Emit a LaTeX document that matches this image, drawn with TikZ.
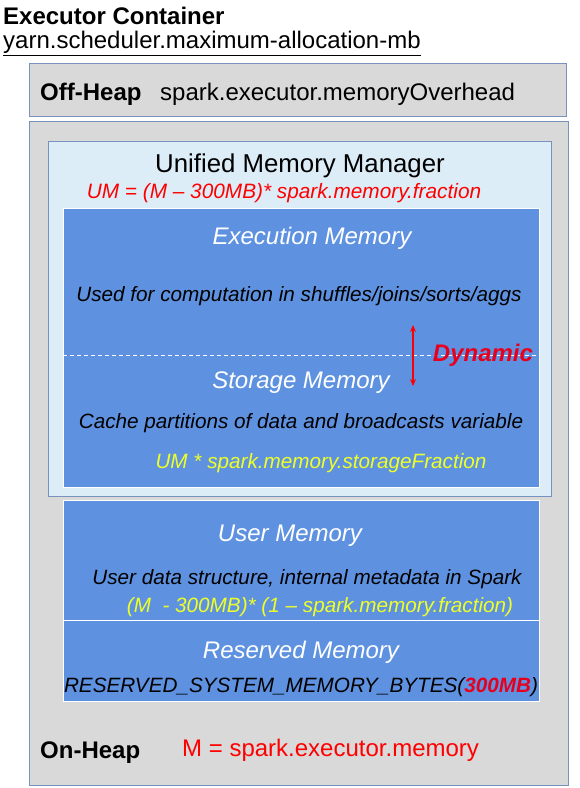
\documentclass[tikz,border=0pt]{standalone}
\usepackage{fontspec}
\setmainfont{Liberation Sans}
\usetikzlibrary{positioning,arrows.meta}
\definecolor{heapgray}{RGB}{217,217,217}
\definecolor{heapline}{RGB}{120,146,190}
\definecolor{umbg}{RGB}{220,237,247}
\definecolor{memblue}{RGB}{94,146,224}
\definecolor{fracyellow}{RGB}{238,255,40}
\definecolor{dynred}{RGB}{230,0,30}
\newcommand{\fsz}[1]{\fontsize{#1}{#1}\selectfont}

\begin{document}
\begin{tikzpicture}[
    x=1pt, y=-1pt,
    region/.style={
        draw=heapline,
        fill=heapgray,
        line width=1pt,
        anchor=north west,
        inner sep=0pt
    },
    umbox/.style={
        region,
        fill=umbg
    },
    membox/.style={
        draw=white,
        fill=memblue,
        line width=1pt,
        anchor=north west,
        inner sep=0pt
    },
    label/.style={inner sep=0pt, yshift=-2.5pt, font=\fsz{24}},
    head/.style={label, font=\fsz{24}\bfseries},
    memname/.style={label, text=white, font=\fsz{24}\itshape},
    memtext/.style={label, font=\fsz{20.7}\itshape},
    formula/.style={label, text=fracyellow, font=\fsz{20.7}\itshape},
    dynarrow/.style={
        {Stealth[length=7pt,width=6pt]}-{Stealth[length=7pt,width=6pt]},
        draw=red,
        line width=1.5pt
    }
]
\useasboundingbox[fill=white] (0,0) rectangle (580,788);

% container title
\node[head, anchor=west] (title) at (3,13) {Executor Container};
\node[label, anchor=west] (yarn) at (3,41) {\underline{yarn.scheduler.maximum-allocation-mb}};

% off-heap
\node[region, minimum width=537pt, minimum height=53pt] (offheap) at (29,63) {};
\node[head, anchor=west] (offlbl) at (40,92) {Off-Heap};
\node[label, anchor=west] (offval) at (160,92) {spark.executor.memoryOverhead};

% on-heap
\node[region, minimum width=539pt, minimum height=664pt] (onheap) at (29,121) {};
\node[umbox, minimum width=503pt, minimum height=355pt] (umm) at (48,141) {};
\node[label, font=\fsz{25.8}] (ummlbl) at (300,163) {Unified Memory Manager};
\node[label, text=red, font=\fsz{20.8}\itshape] (ummval) at (284,191)
{UM = (M -- 300MB)* spark.memory.fraction};

% execution + storage
\node[membox, minimum width=476pt, minimum height=279pt] (execstore) at (63,208) {};
\node[memname] (execlbl) at (312,236) {Execution Memory};
\node[memtext] (exectxt) at (299,294) {Used for computation in shuffles/joins/sorts/aggs};
\coordinate (splitL) at (63,355);
\coordinate (splitR) at (539,355);
\draw[white, dash pattern=on 4pt off 3pt, line width=0.8pt] (splitL) -- (splitR);
\coordinate (dynTop) at (413,325);
\coordinate (dynBot) at (413,386);
\draw[dynarrow] (dynTop) -- (dynBot);
\node[label, text=dynred, font=\fsz{24}\bfseries\itshape] (dyn) at (483,353) {Dynamic};
\node[memname] (storelbl) at (301,380) {Storage Memory};
\node[memtext] (storetxt) at (301,421) {Cache partitions of data and broadcasts variable};
\node[formula] (storeval) at (321,461) {UM * spark.memory.storageFraction};

% user memory
\node[membox, minimum width=476pt, minimum height=120pt] (user) at (63,500) {};
\node[memname] (userlbl) at (290,533) {User Memory};
\node[memtext] (usertxt) at (307,577) {User data structure, internal metadata in Spark};
\node[formula] (userval) at (320,605) {(M\ \ - 300MB)* (1 -- spark.memory.fraction)};

% reserved memory
\node[membox, minimum width=476pt, minimum height=81pt] (reserved) at (63,620) {};
\node[memname] (reslbl) at (301,650) {Reserved Memory};
\node[memtext] (restxt) at (301,685)
{RESERVED\_SYSTEM\_MEMORY\_BYTES({\color{dynred}\bfseries 300MB})};

% on-heap labels
\node[head, anchor=west] (onlbl) at (40,750) {On-Heap};
\node[label, anchor=west, text=red] (onval) at (182,748) {M = spark.executor.memory};
\end{tikzpicture}
\end{document}
